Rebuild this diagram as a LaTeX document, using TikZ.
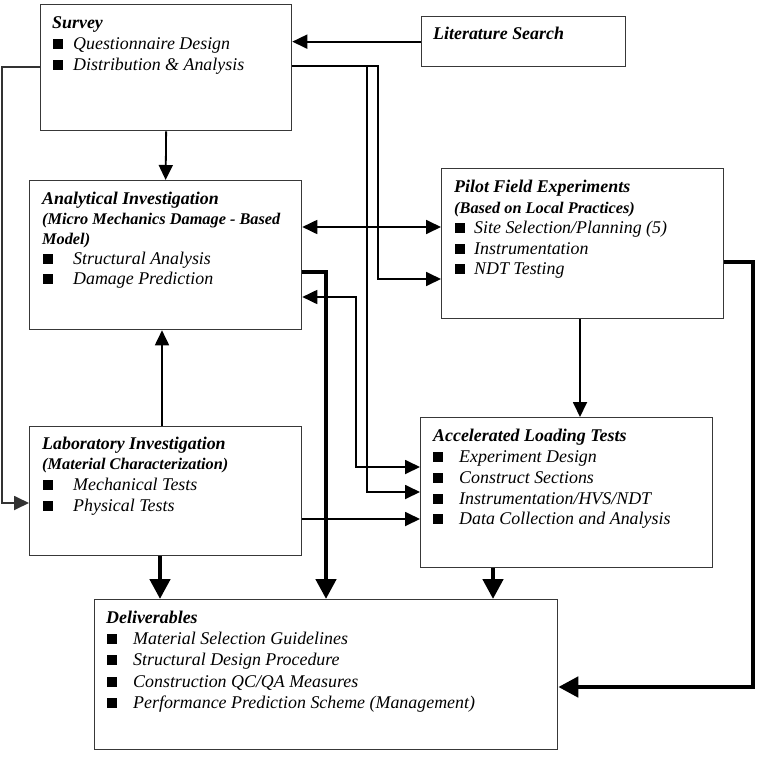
\documentclass[tikz,border=0pt]{standalone}
\usepackage{fontspec}
\setmainfont{Liberation Serif}
\usetikzlibrary{arrows.meta}
\newcommand\bulsq{\rule[0.3pt]{9.5pt}{9.5pt}}
\newcommand\bitem[2]{\makebox[#1][l]{\bulsq}#2}
\tikzset{
  box/.style={draw=black!78, line width=1.3pt, inner sep=0pt, anchor=north west},
  txt/.style={anchor=base west, inner sep=0pt, font=\fontsize{17.9}{20.5}\selectfont\itshape},
  ttl/.style={anchor=base west, inner sep=0pt, font=\fontsize{17.9}{20.5}\selectfont\bfseries\itshape},
  sub/.style={anchor=base west, inner sep=0pt, font=\fontsize{16.3}{20.5}\selectfont\bfseries\itshape},
  conn/.style={line width=1.8pt, draw=black},
  heavy/.style={line width=4.6pt, draw=black},
  tip/.tip={Triangle[length=15pt,width=14pt]},
  bigtip/.tip={Triangle[length=20pt,width=20pt]},
}
\begin{document}
\begin{tikzpicture}[x=1pt,y=1pt]
\useasboundingbox (0,0) rectangle (756,-771);
\fill[white] (0,0) rectangle (756,-771);
% boxes
\node[box, minimum width=251pt, minimum height=126pt] (survey) at (40,-4) {};
\node[box, minimum width=204pt, minimum height=50pt] (lit) at (421,-16) {};
\node[box, minimum width=272pt, minimum height=149pt] (anal) at (29,-180) {};
\node[box, minimum width=282pt, minimum height=150pt] (pilot) at (441,-168) {};
\node[box, minimum width=272pt, minimum height=129pt] (lab) at (29,-426) {};
\node[box, minimum width=292pt, minimum height=150pt] (accel) at (420,-417) {};
\node[box, minimum width=463pt, minimum height=150pt] (deliv) at (94,-599) {};
% texts
\node[ttl] (s0) at (52,-28) {Survey};
\node[txt] (s1) at (53,-49) {\bitem{20pt}{Questionnaire Design}};
\node[txt] (s2) at (53,-70) {\bitem{20pt}{Distribution \& Analysis}};
\node[ttl] (l0) at (433,-39) {Literature Search};
\node[ttl] (a0) at (42,-204) {Analytical Investigation};
\node[sub] (a1) at (42,-224) {(Micro Mechanics Damage - Based};
\node[sub] (a2) at (42,-244) {Model)};
\node[txt] (a3) at (43,-264) {\bitem{30pt}{Structural Analysis}};
\node[txt] (a4) at (43,-284) {\bitem{30pt}{Damage Prediction}};
\node[ttl] (p0) at (454,-192) {Pilot Field Experiments};
\node[sub] (p1) at (454,-213) {(Based on Local Practices)};
\node[txt] (p2) at (455,-233) {\bitem{19pt}{Site Selection/Planning (5)}};
\node[txt] (p3) at (455,-254) {\bitem{19pt}{Instrumentation}};
\node[txt] (p4) at (455,-274) {\bitem{19pt}{NDT Testing}};
\node[ttl] (b0) at (42,-449) {Laboratory Investigation};
\node[sub] (b1) at (42,-469) {(Material Characterization)};
\node[txt] (b2) at (43,-490) {\bitem{30pt}{Mechanical Tests}};
\node[txt] (b3) at (43,-511) {\bitem{30pt}{Physical Tests}};
\node[ttl] (c0) at (433,-441) {Accelerated Loading Tests};
\node[txt] (c1) at (433,-462) {\bitem{26pt}{Experiment Design}};
\node[txt] (c2) at (433,-483) {\bitem{26pt}{Construct Sections}};
\node[txt] (c3) at (433,-504) {\bitem{26pt}{Instrumentation/HVS/NDT}};
\node[txt] (c4) at (433,-524) {\bitem{26pt}{Data Collection and Analysis}};
\node[ttl] (d0) at (106,-623) {Deliverables};
\node[txt] (d1) at (107,-644) {\bitem{26pt}{Material Selection Guidelines}};
\node[txt] (d2) at (107,-665) {\bitem{26pt}{Structural Design Procedure}};
\node[txt] (d3) at (107,-687) {\bitem{26pt}{Construction QC/QA Measures}};
\node[txt] (d4) at (107,-708) {\bitem{26pt}{Performance Prediction Scheme (Management)}};
% helper coordinates
\coordinate (sl1) at (2,-67);
\coordinate (sl2) at (2,-503);
\coordinate (sr1) at (378,-66);
\coordinate (sr2) at (378,-279);
\coordinate (sr3) at (367,-66);
\coordinate (sr4) at (367,-492);
\coordinate (ap) at (0,-227);
\coordinate (at1) at (326,-272);
\coordinate (aa1) at (356,-297);
\coordinate (aa2) at (356,-467);
\coordinate (la) at (162,0);
\coordinate (ld) at (160,0);
\coordinate (lr) at (0,-519);
\coordinate (pa) at (580,0);
\coordinate (pr1) at (753,-262);
\coordinate (pr2) at (753,-687);
\coordinate (ad) at (493,0);
% connectors
\draw[conn,-tip] (lit.west) -- (lit.west -| survey.east);
\draw[conn,-tip] (survey.south) -- (anal.north);
\draw[conn,draw=black!80,-tip] (survey.west |- sl1) -- (sl1) -- (sl2) -- (sl2 -| lab.west);
\draw[conn,-tip] (survey.east |- sr1) -- (sr1) -- (sr2) -- (sr2 -| pilot.west);
\draw[conn,-tip] (survey.east |- sr3) -- (sr3) -- (sr4) -- (sr4 -| accel.west);
\draw[conn,tip-tip] (anal.east |- ap) -- (pilot.west |- ap);
\draw[heavy,-bigtip] (anal.east |- at1) -- (at1) -- (at1 |- deliv.north);
\draw[conn,tip-tip] (anal.east |- aa1) -- (aa1) -- (aa2) -- (aa2 -| accel.west);
\draw[conn,-tip] (la |- lab.north) -- (la |- anal.south);
\draw[heavy,-bigtip] (ld |- lab.south) -- (ld |- deliv.north);
\draw[conn,-tip] (lab.east |- lr) -- (accel.west |- lr);
\draw[conn,-tip] (pa |- pilot.south) -- (pa |- accel.north);
\draw[heavy,-bigtip] (pilot.east |- pr1) -- (pr1) -- (pr2) -- (pr2 -| deliv.east);
\draw[heavy,-bigtip] (ad |- accel.south) -- (ad |- deliv.north);
\end{tikzpicture}
\end{document}
